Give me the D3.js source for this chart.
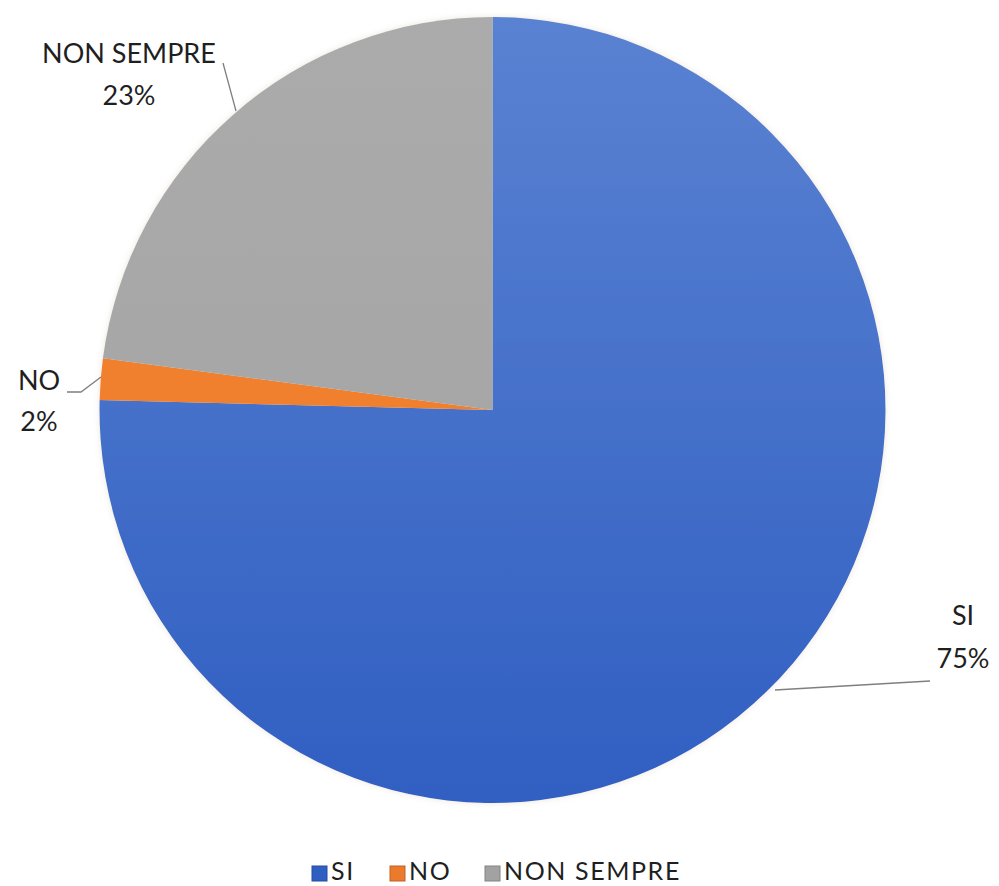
<!DOCTYPE html>
<html>
<head>
<meta charset="utf-8">
<script src="https://cdn.jsdelivr.net/npm/d3@7"></script>
<style>
html,body{margin:0;padding:0;background:#fff;}
svg{display:block;font-family:Lato,"Open Sans",sans-serif;}
</style>
</head>
<body>
<svg id="chart" width="999" height="886"></svg>
<script>
const categories = ["SI", "NO", "NON SEMPRE"];
const values = [75.4, 1.7, 22.9];
const pctLabels = ["75%", "2%", "23%"];
const colorsTop = ["#5A82D2", "#F5852F", "#ABABAB"];
const colorsBottom = ["#305FC2", "#EC7A2C", "#A2A2A2"];

const svg = d3.select("#chart");
const cx = 492.5, cy = 410, R = 393;

const defs = svg.append("defs");
categories.forEach((c, i) => {
  const g = defs.append("linearGradient")
    .attr("id", "grad" + i)
    .attr("gradientUnits", "userSpaceOnUse")
    .attr("x1", 0).attr("y1", -R).attr("x2", 0).attr("y2", R);
  g.append("stop").attr("offset", "0%").attr("stop-color", colorsTop[i]);
  g.append("stop").attr("offset", "100%").attr("stop-color", colorsBottom[i]);
});
const f = defs.append("filter").attr("id", "shadow").attr("x", "-10%").attr("y", "-10%").attr("width", "120%").attr("height", "120%");
f.append("feDropShadow").attr("dx", 0).attr("dy", 0).attr("stdDeviation", 3).attr("flood-color", "#c8b89a").attr("flood-opacity", 0.35);

const pie = d3.pie().sort(null).value(d => d);
const arcs = pie(values);
const arc = d3.arc().innerRadius(0).outerRadius(R);

const g = svg.append("g").attr("transform", `translate(${cx},${cy})`);
g.append("g").attr("filter", "url(#shadow)")
  .selectAll("path").data(arcs).join("path")
  .attr("d", arc)
  .attr("fill", (d, i) => `url(#grad${i})`);

// Labels and leader lines
const textColor = "#1f1f1f";
const fontSize = 27;
const labelPos = [
  {x: 963, y1: 625, y2: 668, line: [[775, 690], [930, 681]]},
  {x: 39, y1: 390, y2: 431, line: [[67, 392], [81, 392], [101, 377]]},
  {x: 129, y1: 63, y2: 105, line: [[223, 63], [236, 111]]}
];
const labelG = svg.append("g");
categories.forEach((c, i) => {
  const p = labelPos[i];
  labelG.append("path")
    .attr("d", d3.line()(p.line))
    .attr("fill", "none").attr("stroke", "#7f7f7f").attr("stroke-width", 1.3);
  labelG.append("text").attr("x", p.x).attr("y", p.y1)
    .attr("text-anchor", "middle").attr("font-size", fontSize).attr("fill", textColor).text(c);
  labelG.append("text").attr("x", p.x).attr("y", p.y2)
    .attr("text-anchor", "middle").attr("font-size", fontSize).attr("fill", textColor).text(pctLabels[i]);
});

// Legend
const legX = [312, 390, 485];
const legend = svg.append("g");
categories.forEach((c, i) => {
  legend.append("rect").attr("x", legX[i]).attr("y", 866).attr("width", 15).attr("height", 15)
    .attr("fill", colorsBottom[i]).attr("stroke", d3.color(colorsBottom[i]).darker(0.6)).attr("stroke-width", 1);
  legend.append("text").attr("x", legX[i] + 19).attr("y", 880)
    .attr("font-size", 25).attr("letter-spacing", 1.6).attr("fill", textColor).text(c);
});
</script>
</body>
</html>
